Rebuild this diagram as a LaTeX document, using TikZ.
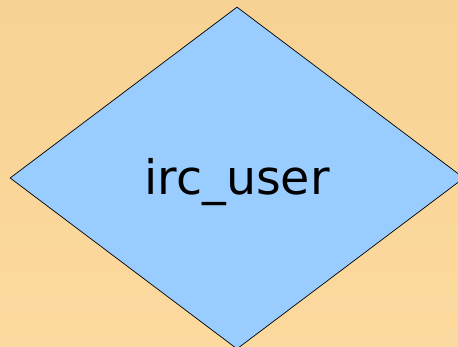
\documentclass[tikz,border=0pt]{standalone}
\usepackage{fontspec}
\setmainfont{DejaVu Sans}
\usepackage{xcolor}
\usepackage{tikz}
\usetikzlibrary{shapes.geometric, positioning}

\definecolor{bgtop}{RGB}{247,210,148}
\definecolor{bgbottom}{RGB}{252,217,158}
\definecolor{entityblue}{RGB}{153,204,255}

\begin{document}
\begin{tikzpicture}[
    x=1pt, y=1pt,
    backdrop/.style={top color=bgtop, bottom color=bgbottom, draw=none},
    entity/.style={
        diamond, fill=entityblue, draw=black, line width=0.7pt,
        minimum width=454pt, minimum height=342pt, inner sep=0pt,
        font=\fontsize{47.5}{56}\selectfont
    }
]

% Background
\path[backdrop] (0,0) rectangle (458,347);
\useasboundingbox (0,0) rectangle (458,347);

% Entity
\node[entity] (user) at (237,169) {\raisebox{-4pt}[\height][\depth]{irc\_user}};

\end{tikzpicture}
\end{document}
